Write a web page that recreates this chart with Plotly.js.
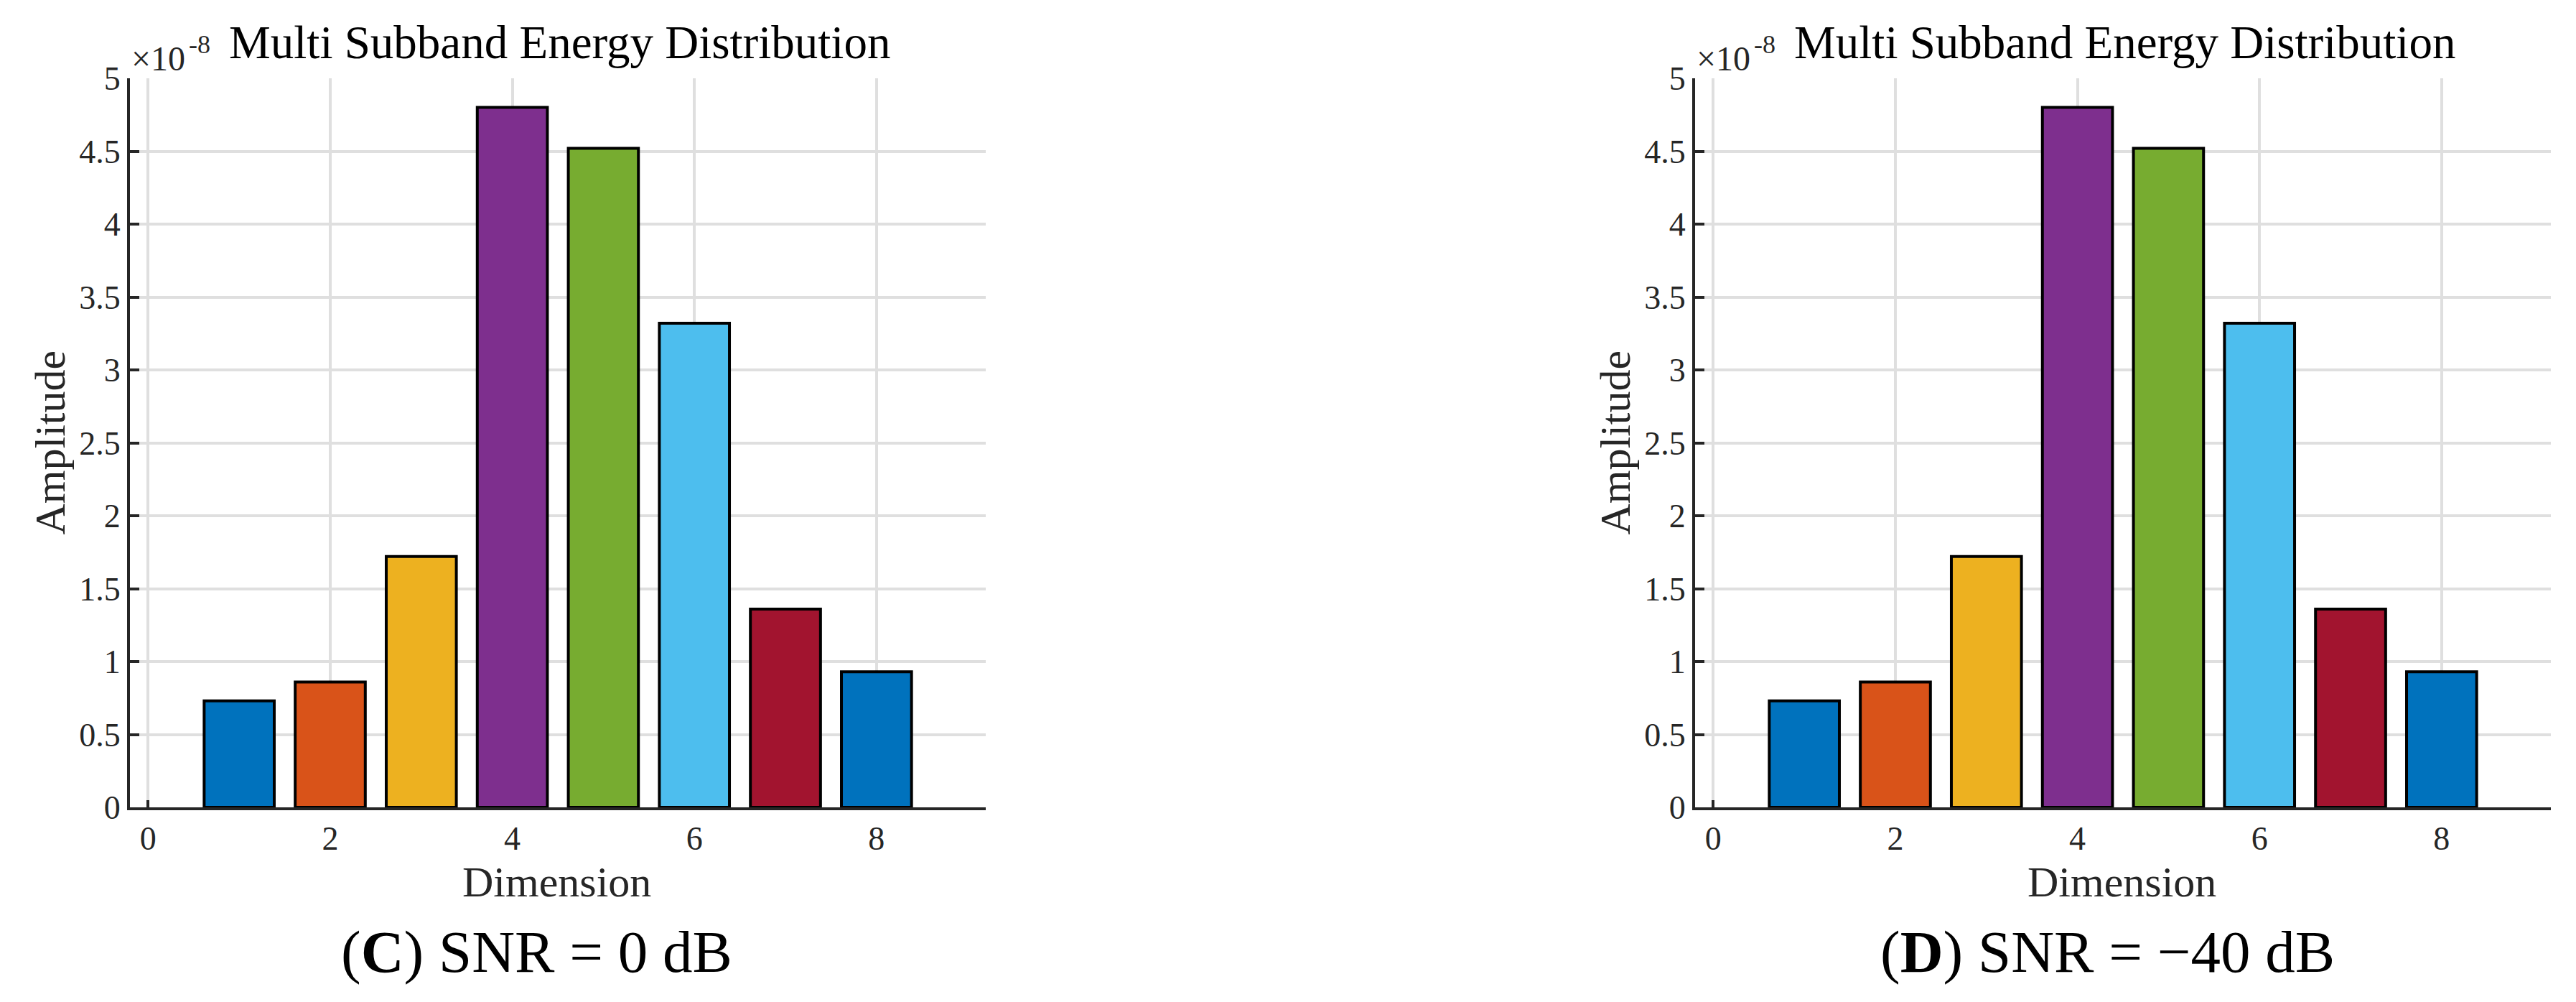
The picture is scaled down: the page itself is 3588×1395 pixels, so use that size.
<!DOCTYPE html>
<html>
<head>
<meta charset="utf-8">
<script src="https://cdn.plot.ly/plotly-3.0.1.min.js"></script>
<style>
  html, body { margin: 0; padding: 0; background: #fff; }
  #chart { width: 3588px; height: 1395px; }
</style>
</head>
<body>
<div id="chart"></div>
<script>
// Values (amplitude in units of 1e-8)
const dimensions = [1, 2, 3, 4, 5, 6, 7, 8];
const amplitudeC = [0.73, 0.86, 1.72, 4.80, 4.52, 3.32, 1.36, 0.93];
const amplitudeD = [0.73, 0.86, 1.72, 4.80, 4.52, 3.32, 1.36, 0.93];

// MATLAB default colour order, one per bar
const barColors = ['#0072BD', '#D95319', '#EDB120', '#7E2F8E', '#77AC30', '#4DBEEE', '#A2142F', '#0072BD'];

const xTickVals = [0, 2, 4, 6, 8];
const yTickVals = [0, 0.5, 1, 1.5, 2, 2.5, 3, 3.5, 4, 4.5, 5];
const yTickText = ['0', '0.5', '1', '1.5', '2', '2.5', '3', '3.5', '4', '4.5', '5'];

const chartTitle = 'Multi Subband Energy Distribution';
const xLabel = 'Dimension';
const yLabel = 'Amplitude';
const exponentBase = '×10';
const exponentPower = '-8';
const captions = ['(<b>C</b>) SNR = 0 dB', '(<b>D</b>) SNR = −40 dB'];

// Page geometry (pixels)
const W = 3588, H = 1395;
const FONT = 'Liberation Serif, Times New Roman, serif';
const AXIS_GREY = '#262626';
const px = v => v / W;
const py = v => 1 - v / H;

const panels = [
    { left: 181, right: 1373, values: amplitudeC, caption: captions[0], captionX: 747 },
    { left: 2361, right: 3553, values: amplitudeD, caption: captions[1], captionX: 2935 }
];
const plotTop = 109, plotBottom = 1124;

const traces = [];
const annotations = [];
const layout = {
    width: W,
    height: H,
    margin: { l: 0, r: 0, t: 0, b: 0 },
    paper_bgcolor: '#ffffff',
    plot_bgcolor: '#ffffff',
    showlegend: false,
    font: { family: FONT, color: AXIS_GREY, size: 46 }
};

function label(x, y, text, size, color, extra) {
    return Object.assign({
        xref: 'paper', yref: 'paper',
        x: px(x), y: py(y),
        xanchor: 'center', yanchor: 'middle',
        text: text, showarrow: false,
        font: { family: FONT, size: size, color: color }
    }, extra || {});
}

panels.forEach((p, i) => {
    const n = i === 0 ? '' : '2';
    traces.push({
        type: 'bar',
        x: dimensions,
        y: p.values,
        width: 0.77,
        xaxis: 'x' + n,
        yaxis: 'y' + n,
        marker: {
            color: barColors,
            line: { color: '#000000', width: 4 }
        },
        hoverinfo: 'skip'
    });

    layout['xaxis' + n] = {
        domain: [px(p.left), px(p.right)],
        anchor: 'y' + n,
        range: [-0.2, 9.2],
        tickvals: xTickVals,
        ticks: 'inside',
        ticklen: 10,
        tickwidth: 4,
        tickcolor: AXIS_GREY,
        showline: true,
        linecolor: AXIS_GREY,
        linewidth: 4,
        showgrid: true,
        gridcolor: '#dfdfdf',
        gridwidth: 4,
        zeroline: false,
        layer: 'below traces',
        tickfont: { family: FONT, size: 46, color: AXIS_GREY },
        fixedrange: true
    };
    layout['yaxis' + n] = {
        domain: [py(plotBottom), py(plotTop)],
        anchor: 'x' + n,
        range: [0, 5],
        tickvals: yTickVals,
        ticktext: yTickText,
        ticks: 'inside',
        ticklen: 13,
        tickwidth: 4,
        tickcolor: AXIS_GREY,
        showline: true,
        linecolor: AXIS_GREY,
        linewidth: 4,
        showgrid: true,
        gridcolor: '#dfdfdf',
        gridwidth: 4,
        zeroline: false,
        tickfont: { family: FONT, size: 46, color: AXIS_GREY },
        fixedrange: true
    };

    const mid = (p.left + p.right) / 2;
    annotations.push(label(mid + 2, 59, chartTitle, 65, '#000000'));
    // exponent of the y axis, as MATLAB draws it
    annotations.push(label(p.left, 110, exponentBase, 48, AXIS_GREY, { xanchor: 'left', yanchor: 'bottom' }));
    annotations.push(label(p.left + 80, 84, exponentPower, 36, AXIS_GREY, { xanchor: 'left', yanchor: 'bottom' }));
    // axis labels
    annotations.push(label(mid - 2, 1228, xLabel, 60, AXIS_GREY));
    annotations.push(label(p.left - 112, (plotTop + plotBottom) / 2, yLabel, 60, AXIS_GREY, { textangle: -90 }));
    // panel caption
    annotations.push(label(p.captionX, 1325, p.caption, 83, '#000000'));
});

layout.annotations = annotations;

Plotly.newPlot('chart', traces, layout, { displayModeBar: false, staticPlot: true });
</script>
</body>
</html>
